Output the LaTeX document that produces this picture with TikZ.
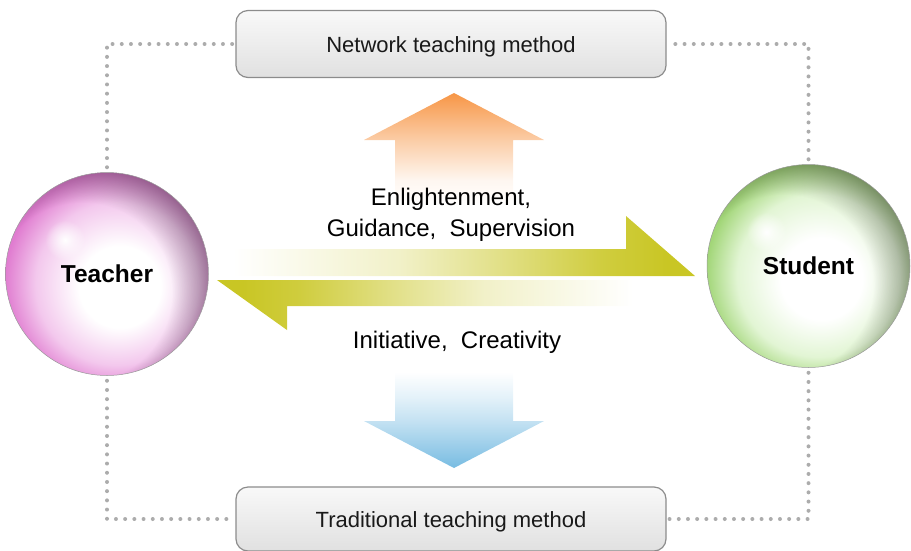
\documentclass[tikz,border=0pt]{standalone}
\usepackage{fontspec}
\setmainfont{Liberation Sans}
\usetikzlibrary{fadings}

\definecolor{pinkrim}{RGB}{224,124,208}
\definecolor{pinkmid}{RGB}{243,200,237}
\definecolor{greenrim}{RGB}{162,214,120}
\definecolor{greenmid}{RGB}{226,245,212}
\definecolor{olivey}{RGB}{201,198,36}
\definecolor{orangey}{RGB}{247,150,70}
\definecolor{bluey}{RGB}{120,188,226}
\definecolor{dotgray}{RGB}{172,172,172}
\definecolor{boxedge}{RGB}{140,140,140}
\definecolor{shadowtone}{RGB}{38,34,40}

% sphere bodies: white core, coloured rim
\pgfdeclareradialshading{pinkball}{\pgfpoint{4bp}{-4bp}}{color(0bp)=(white); color(10bp)=(white); color(20bp)=(pinkmid); color(27bp)=(pinkrim); color(50bp)=(pinkrim)}
\pgfdeclareradialshading{greenball}{\pgfpoint{4bp}{-4bp}}{color(0bp)=(white); color(10bp)=(white); color(20bp)=(greenmid); color(27bp)=(greenrim); color(50bp)=(greenrim)}

% dark rim towards the upper right of each sphere
\pgfdeclareradialshading{rimdarkmask}{\pgfpoint{-11bp}{-8bp}}{color(0bp)=(black); color(22bp)=(black); color(30bp)=(white!40!black); color(37bp)=(white!88!black); color(50bp)=(white!88!black)}
\pgfdeclarefading{rimdark}{\pgfuseshading{rimdarkmask}}
\tikzfading[name=glowspot, inner color=transparent!0, outer color=transparent!100]

% arrow gradients
\pgfdeclarehorizontalshading{olivegradR}{100bp}{color(0bp)=(white); color(25bp)=(white); color(43bp)=(olivey!25); color(54bp)=(olivey!55); color(65bp)=(olivey!88); color(72bp)=(olivey); color(100bp)=(olivey)}
\pgfdeclarehorizontalshading{olivegradL}{100bp}{color(0bp)=(olivey); color(28bp)=(olivey); color(35bp)=(olivey!88); color(46bp)=(olivey!55); color(57bp)=(olivey!25); color(75bp)=(white); color(100bp)=(white)}
\pgfdeclareverticalshading{orangeup}{100bp}{color(0bp)=(white); color(25bp)=(white); color(36bp)=(orangey!8); color(54bp)=(orangey!48); color(65bp)=(orangey!75); color(75bp)=(orangey); color(100bp)=(orangey)}
\pgfdeclareverticalshading{bluedown}{100bp}{color(0bp)=(bluey); color(25bp)=(bluey); color(36bp)=(bluey!75); color(49bp)=(bluey!45); color(62bp)=(bluey!20); color(75bp)=(white); color(100bp)=(white)}

\tikzset{
  ball/.style={circle, inner sep=0pt, minimum size=203pt, draw=black!40, line width=0.5pt,
    font=\fontsize{24.5pt}{28pt}\selectfont\bfseries,
    path picture={
      \fill[shadowtone, path fading=rimdark] (path picture bounding box.center) circle (101.5);
      \fill[white, path fading=glowspot] ([shift={(-42,-34)}]path picture bounding box.center) circle (20);
    }},
  methodbox/.style={rounded corners=12pt, minimum width=430pt, draw=boxedge, line width=1.2pt,
    top color=gray!5, bottom color=gray!24, font=\fontsize{22pt}{26pt}\selectfont, text=black!90,
    text height=16pt},
  lbl/.style={font=\fontsize{24pt}{28pt}\selectfont, inner sep=0pt, anchor=base},
  dotline/.style={dotgray, line width=4pt, line cap=round, dash pattern=on 0pt off 9.2pt}
}

\begin{document}
\begin{tikzpicture}[x=1pt,y=-1pt]
\useasboundingbox (0,0) rectangle (911,550);
\clip (0,0) rectangle (911,550);

% method boxes
\node[methodbox, minimum height=67pt, text depth=-2pt] (netbox) at (451,44) {Network teaching method};
\node[methodbox, minimum height=64pt, text depth=-6pt] (tradbox) at (451,519) {Traditional teaching method};

% the two spheres
\node[ball, shading=pinkball] (teacher) at (107,274) {Teacher};
\node[ball, shading=greenball] (student) at (808.5,266) {Student};

% dotted frame linking spheres and boxes
\draw[dotline, shorten <=5pt] (teacher.north) |- (netbox.west);
\draw[dotline, shorten <=5pt] (student.north) |- (netbox.east);
\draw[dotline, shorten <=5pt] (teacher.south) |- (tradbox.west);
\draw[dotline, shorten <=5pt] (student.south) |- (tradbox.east);

% upward and downward arrows
\shade[shading=orangeup] (454,93) -- (544,140) -- (513,140) -- (513,205) -- (395,205) -- (395,140) -- (364,140) -- cycle;
\shade[shading=bluedown] (395,372) -- (513,372) -- (513,421) -- (544,421) -- (454,468) -- (364,421) -- (395,421) -- cycle;

% half arrows between teacher and student
\shade[shading=olivegradR] (233,249) -- (626,249) -- (626,216) -- (695,276) -- (233,276) -- cycle;
\shade[shading=olivegradL] (217,280) -- (633,280) -- (633,306) -- (287,306) -- (287,330) -- cycle;

% labels
\node[lbl] (enl) at (451,205) {Enlightenment,};
\node[lbl] (gui) at (451,236) {Guidance,~~Supervision};
\node[lbl] (ini) at (457,348) {Initiative,~~Creativity};
\end{tikzpicture}
\end{document}
